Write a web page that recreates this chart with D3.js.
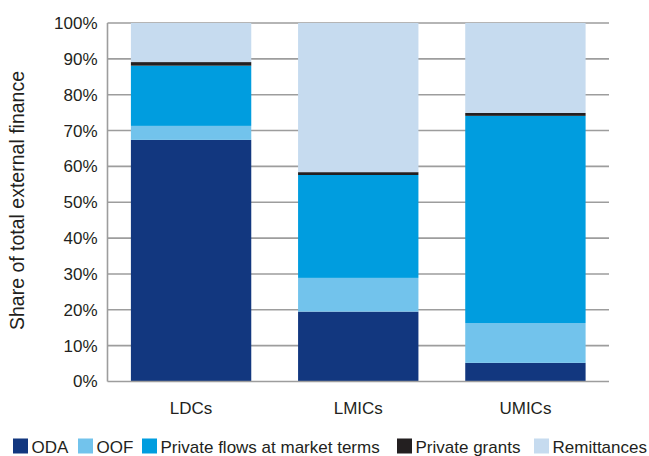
<!DOCTYPE html>
<html><head><meta charset="utf-8">
<script src="https://cdn.jsdelivr.net/npm/d3@7"></script>
<style>body{margin:0;background:#fff}svg{display:block}text{font-family:"Liberation Sans",Arial,sans-serif;fill:#231f20}</style>
</head><body><svg id="c" width="649" height="456"></svg>
<script>
const categories = ["LDCs", "LMICs", "UMICs"];
const seriesNames = ["ODA", "OOF", "Private flows at market terms", "Private grants", "Remittances"];
const oda = [67.4, 19.5, 5.2];
const oof = [3.9, 9.4, 11.1];
const privateFlows = [16.8, 28.7, 57.8];
const privateGrants = [1.0, 0.8, 0.8];
const remittances = [10.9, 41.6, 25.1];
const yTicks = [0, 10, 20, 30, 40, 50, 60, 70, 80, 90, 100];
const colors = ["#12377f", "#72c3ec", "#009ddf", "#231f20", "#c6dbef"];

const seriesValues = [oda, oof, privateFlows, privateGrants, remittances];
const rows = categories.map((c, i) => {
  const r = {cat: c};
  seriesNames.forEach((s, j) => r[s] = seriesValues[j][i]);
  return r;
});

const svg = d3.select("#c");
const m = {l: 107.5, r: 609, t: 23, b: 381.5};
const x = d3.scaleBand().domain(categories).range([m.l, m.r]).paddingInner(0.28).paddingOuter(0.14);
const y = d3.scaleLinear().domain([0, 100]).range([m.b, m.t]);

// gridlines
svg.append("g").selectAll("line").data(yTicks.filter(d => d > 0)).join("line")
  .attr("x1", m.l).attr("x2", m.r).attr("y1", d => y(d)).attr("y2", d => y(d))
  .attr("stroke", "#9d9d9d").attr("stroke-width", 1.6);

// stacked bars
const stack = d3.stack().keys(seriesNames)(rows);
svg.append("g").selectAll("g").data(stack).join("g")
  .attr("fill", (d, i) => colors[i])
  .selectAll("rect").data(d => d).join("rect")
  .attr("x", d => x(d.data.cat)).attr("width", x.bandwidth())
  .attr("y", d => y(d[1])).attr("height", d => y(d[0]) - y(d[1]));

// axes lines
svg.append("line").attr("x1", m.l).attr("x2", m.l).attr("y1", m.t).attr("y2", m.b)
  .attr("stroke", "#9d9d9d").attr("stroke-width", 1.6);
svg.append("line").attr("x1", m.l).attr("x2", m.r).attr("y1", m.b).attr("y2", m.b)
  .attr("stroke", "#9d9d9d").attr("stroke-width", 1.6);

// y tick labels
const yAxis = d3.axisLeft(y).tickValues(yTicks).tickFormat(d => d + "%").tickSize(0).tickPadding(10);
const ya = svg.append("g").attr("transform", `translate(${m.l},0)`).call(yAxis);
ya.select(".domain").remove();
ya.selectAll("text").style("font-size", "17px").attr("fill", "#231f20").style("font-family", '"Liberation Sans",Arial,sans-serif');

// x labels
const xAxis = d3.axisBottom(x).tickSize(0).tickPadding(20);
const xa = svg.append("g").attr("transform", `translate(0,${m.b})`).call(xAxis);
xa.select(".domain").remove();
xa.selectAll("text").style("font-size", "17px").attr("fill", "#231f20").style("font-family", '"Liberation Sans",Arial,sans-serif');

// y title
svg.append("text").attr("transform", "translate(23.5,200.5) rotate(-90)")
  .attr("text-anchor", "middle").style("font-size", "19.5px").text("Share of total external finance");

// legend
const legX = [13, 78, 142, 397, 534];
const lg = svg.append("g").selectAll("g").data(seriesNames).join("g")
  .attr("transform", (d, i) => `translate(${legX[i]},438.5)`);
lg.append("rect").attr("width", 15).attr("height", 15).attr("fill", (d, i) => colors[i]);
lg.append("text").attr("x", 18.5).attr("y", 14).style("font-size", "17px").text(d => d);
</script></body></html>
